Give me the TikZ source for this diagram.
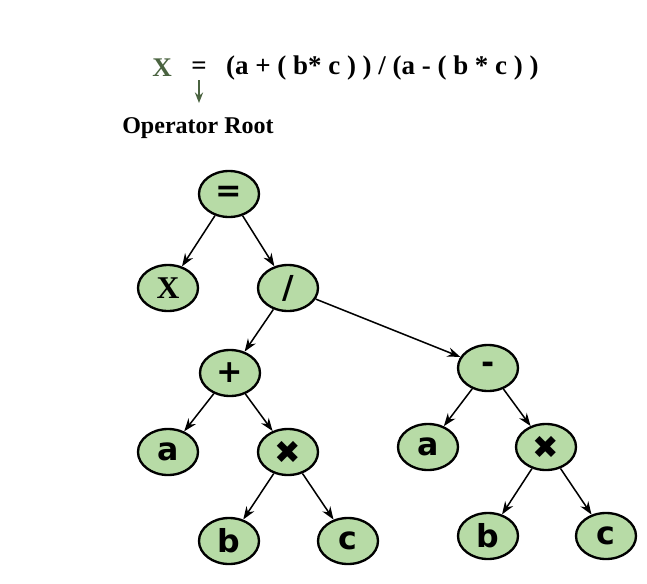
\documentclass[tikz,border=0pt]{standalone}
\usepackage{fontspec}
\setmainfont{Liberation Serif}
\newfontfamily\heavy{DejaVu Sans}
\usetikzlibrary{shapes.geometric,arrows.meta}
\definecolor{nodegreen}{HTML}{B7DBA6}
\definecolor{dkgreen}{HTML}{4A6340}
\begin{document}
\begin{tikzpicture}[x=0.03cm,y=-0.03cm,
  tn/.style={ellipse,draw=black,line width=2pt,fill=nodegreen,minimum width=1.8cm,minimum height=1.38cm,inner sep=0pt,font=\heavy\bfseries\fontsize{27}{30}\selectfont},
  edge/.style={-{Stealth[length=11pt,width=8pt]},line width=1.3pt}]
\useasboundingbox (0,0) rectangle (647,583);
\node[font=\bfseries\fontsize{23}{26}\selectfont,text=dkgreen] (tx) at (162,68) {X};
\node[font=\bfseries\fontsize{23}{26}\selectfont] (teq) at (199,68) {=};
\node[font=\bfseries\fontsize{23}{26}\selectfont,anchor=west] (texpr) at (222,68) {(a + ( b* c ) ) / (a - ( b * c ) )};
\coordinate (ar) at (199,103);
\draw[-{Stealth[length=9pt,width=7pt]},dkgreen,line width=1.4pt] (199,80) -- (ar);
\node[font=\bfseries\fontsize{20.5}{24}\selectfont] (root) at (198,128) {Operator Root};
\node[tn] (n1) at (229,194) {=};
\node[tn,font=\bfseries\fontsize{27}{30}\selectfont\rmfamily] (n2) at (168,288) {X};
\node[tn] (n3) at (288,288) {/};
\node[tn] (n4) at (230,373) {+};
\node[tn] (n5) at (488,368) {-};
\node[tn] (n6) at (168,452) {a};
\node[tn] (n7) at (288,452) {\char"2716};
\node[tn] (n8) at (428,447) {a};
\node[tn] (n9) at (546,447) {\char"2716};
\node[tn] (n10) at (229,541) {b};
\node[tn] (n11) at (348,541) {c};
\node[tn] (n12) at (488,536) {b};
\node[tn] (n13) at (606,536) {c};
\draw[edge] (n1) -- (n2);
\draw[edge] (n1) -- (n3);
\draw[edge] (n3) -- (n4);
\draw[edge] (n3) -- (n5);
\draw[edge] (n4) -- (n6);
\draw[edge] (n4) -- (n7);
\draw[edge] (n5) -- (n8);
\draw[edge] (n5) -- (n9);
\draw[edge] (n7) -- (n10);
\draw[edge] (n7) -- (n11);
\draw[edge] (n9) -- (n12);
\draw[edge] (n9) -- (n13);
\end{tikzpicture}
\end{document}
